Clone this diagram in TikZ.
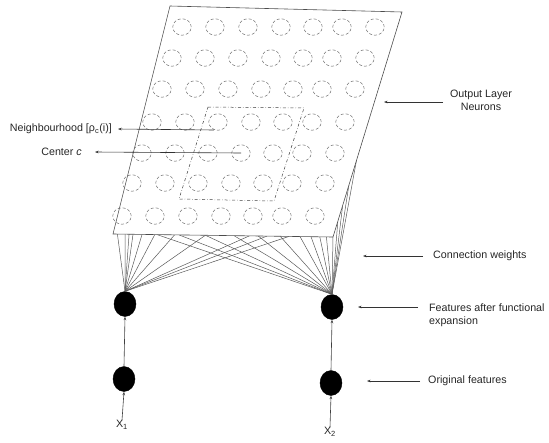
\documentclass[tikz,border=0pt]{standalone}
\usepackage{fontspec}
\setmainfont{Liberation Sans}
\usetikzlibrary{arrows.meta,calc,shapes.geometric}

\tikzset{
  neuron/.style={draw=black!55, densely dashed, line width=0.5pt, ellipse, minimum width=18.5pt, minimum height=16.5pt, inner sep=0pt},
  unit/.style={fill=black, draw=black, ellipse, minimum width=22pt, minimum height=25pt, inner sep=0pt},
  weight/.style={draw=black!65, line width=0.5pt},
  pointer/.style={draw=black!80, line width=0.6pt, -{Stealth[length=3.5pt,width=2.6pt]}},
  feed/.style={draw=black!75, line width=0.6pt, -{Stealth[length=3.5pt,width=2.6pt]}},
  caption/.style={font=\fontsize{10.7}{13}\selectfont, inner sep=0pt, text=black!85}
}

\begin{document}
\begin{tikzpicture}[x=1pt,y=-1pt]
\useasboundingbox (0,0) rectangle (549,442);

% corners of the output-layer sheet
\coordinate (TL) at (170,6);
\coordinate (TR) at (402,12);
\coordinate (BR) at (333,237);
\coordinate (BL) at (113,234);

% input and functional-expansion units
\node[unit] (o1) at (124,379) {};
\node[unit] (o2) at (331,383) {};
\node[unit] (f1) at (125,304) {};
\node[unit] (f2) at (332,307) {};

% weights from the expansion units to the sheet
\foreach \t in {0.02,0.055,0.073,0.091,0.132,0.19,0.28,0.42,0.62,0.70,0.80}
  \draw[weight] (f1.north) -- ($(BL)!\t!(BR)$);
\foreach \t in {0.2,0.3,0.42,0.55,0.66,0.76,0.85,0.9,0.94,0.97,1.0}
  \draw[weight] (f2.north) -- ($(BL)!\t!(BR)$);
\foreach \s in {0.07,0.14,0.23,0.34}
  \draw[weight] (f2.north) -- ($(BR)!\s!(TR)$);

% the sheet itself
\draw[fill=white, draw=black!70, line width=0.6pt] (TL) -- (TR) -- (BR) -- (BL) -- cycle;

% grid of output neurons
\foreach \r/\yy in {0/27,1/58,2/89,3/122,4/153,5/183,6/216}
  \foreach \c/\xx in {0/182,1/215,2/248,3/281,4/313,5/342,6/375}
    \node[neuron] (n-\r-\c) at ({\xx-10*\r},\yy) {};

% neighbourhood of the winning neuron
\draw[black!75, line width=0.5pt, dash dot] (208,107) -- (304,108) -- (274,201) -- (179,199) -- cycle;

% left-hand labels
\node[caption, anchor=east] (lnb) at (112,129) {Neighbourhood [ρ\textsubscript{c}(i)]};
\node[caption, anchor=east] (lc) at (82,152) {Center \textit{c}};
\coordinate (nbS) at (214,130);
\draw[pointer] (nbS) -- ($(lnb.east)+(6,0)$);
\draw[pointer] (n-4-3.center) -- ($(lc.east)+(13,0)$);

% right-hand labels
\node[caption, align=center] (lout) at (481,100) {Output Layer\\Neurons};
\node[caption, anchor=west] (lcw) at (433,256) {Connection weights};
\node[caption, anchor=west, align=left] (lfe) at (429,315) {Features after functional\\expansion};
\node[caption, anchor=west] (lof) at (428,381) {Original features};
\coordinate (outT) at (384,102);
\coordinate (cwT) at (363,256);
\coordinate (feT) at (358,307);
\coordinate (ofT) at (367,381);
\draw[pointer] (443,102) -- (outT);
\draw[pointer] ($(lcw.west)+(-10,0)$) -- (cwT);
\draw[pointer] (418,307) -- (feT);
\draw[pointer] ($(lof.west)+(-8,0)$) -- (ofT);

% inputs
\node[caption] (x1) at (122,425) {X\textsubscript{1}};
\node[caption] (x2) at (330,432) {X\textsubscript{2}};
\draw[feed] (x1.north) -- (o1.south);
\draw[feed] (x2.north) -- (o2.south);
\draw[feed] (o1.north) -- (f1.south);
\draw[feed] (o2.north) -- (f2.south);
\end{tikzpicture}
\end{document}
